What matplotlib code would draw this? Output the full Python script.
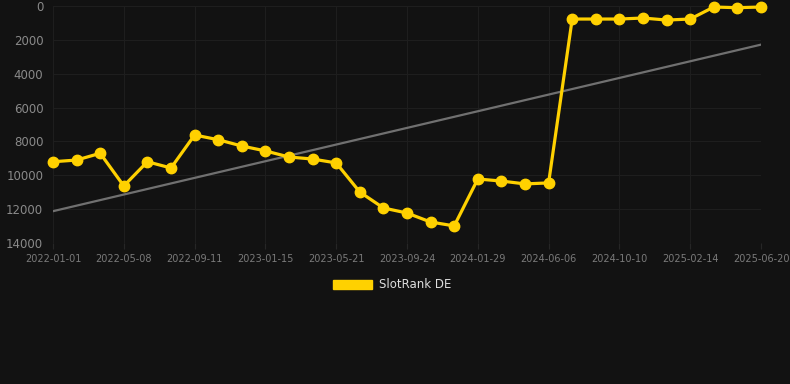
import numpy as np
import matplotlib
matplotlib.use('Agg')
import matplotlib.pyplot as plt
from matplotlib.patches import Patch


dates = ['2022-01-01', '2022-02-12', '2022-03-26', '2022-05-08', '2022-06-19',
         '2022-07-31', '2022-09-11', '2022-10-23', '2022-12-04', '2023-01-15',
         '2023-02-26', '2023-04-09', '2023-05-21', '2023-07-02', '2023-08-13',
         '2023-09-24', '2023-11-05', '2023-12-17', '2024-01-29', '2024-03-11',
         '2024-04-23', '2024-06-06', '2024-07-18', '2024-08-29', '2024-10-10',
         '2024-11-21', '2025-01-02', '2025-02-14', '2025-03-28', '2025-05-09',
         '2025-06-20']
ranks = [9200, 9100, 8700, 10630, 9200, 9570, 7620, 7900, 8270, 8560,
         8920, 9040, 9270, 10990, 11930, 12230, 12760, 12990, 10220, 10340,
         10510, 10450, 770, 770, 770, 710, 830, 770, 60, 100, 60]
series_name = 'SlotRank DE'

BG = '#121212'
YELLOW = '#FFD100'

x = np.arange(len(dates))
y = np.array(ranks)

fig = plt.figure(figsize=(7.9, 3.84), dpi=100, facecolor=BG)
ax = fig.add_axes([53 / 790, 1 - 243 / 384, 708 / 790, 237 / 384])
ax.set_facecolor(BG)

# linear trend
k, b = np.polyfit(x, y, 1)
ax.plot(x, k * x + b, color='#707070', lw=1.6, zorder=2)

ax.plot(x, y, color=YELLOW, lw=2.3, marker='o', ms=7.5,
        clip_on=False, zorder=3)

ax.set_xlim(0, len(dates) - 1)
ax.set_ylim(14000, 0)
ax.set_yticks(np.arange(0, 14001, 2000))
ax.set_xticks(x[::3])
ax.set_xticklabels(dates[::3])

ax.grid(True, color='#1e1e1e', lw=0.8)
ax.set_axisbelow(True)
for s in ax.spines.values():
    s.set_visible(False)

ax.tick_params(axis='y', length=0, pad=7, labelsize=8.5, labelcolor='#8a8a8a')
ax.tick_params(axis='x', length=4, color='#262626', pad=4, labelsize=7,
               labelcolor='#7a7a7a')

leg = fig.legend(handles=[Patch(facecolor=YELLOW, edgecolor=YELLOW)],
                 labels=[series_name], loc='center',
                 bbox_to_anchor=(392 / 790, 1 - 285 / 384),
                 frameon=False, handlelength=3.3, handleheight=0.9,
                 fontsize=8.5, labelcolor='#dddddd', handletextpad=0.6)

fig.savefig('out.png', dpi=100, facecolor=BG)
